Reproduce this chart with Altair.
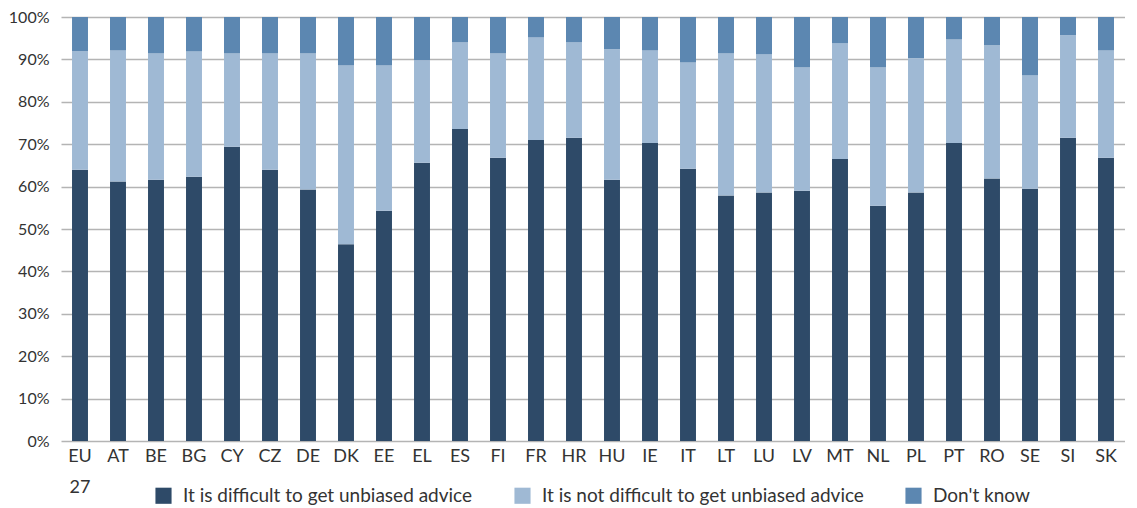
import altair as alt
import pandas as pd

countries = ["EU 27", "AT", "BE", "BG", "CY", "CZ", "DE", "DK", "EE", "EL", "ES", "FI", "FR", "HR",
             "HU", "IE", "IT", "LT", "LU", "LV", "MT", "NL", "PL", "PT", "RO", "SE", "SI", "SK"]
difficult = [64.0, 61.2, 61.6, 62.3, 69.4, 64.0, 59.3, 46.4, 54.3, 65.6, 73.6, 66.8, 71.0, 71.5,
             61.6, 70.3, 64.2, 57.9, 58.6, 59.0, 66.5, 55.5, 58.6, 70.3, 61.9, 59.5, 71.5, 66.8]
difficult_plus_not = [91.9, 92.1, 91.4, 91.9, 91.4, 91.4, 91.4, 88.6, 88.6, 89.8, 94.0, 91.4, 95.2, 94.0,
                      92.4, 92.1, 89.3, 91.4, 91.2, 88.1, 93.8, 88.1, 90.3, 94.7, 93.3, 86.3, 95.7, 92.1]
series = ["It is difficult to get unbiased advice",
          "It is not difficult to get unbiased advice",
          "Don't know"]
colors = ["#2E4A68", "#9FB9D4", "#5C87B1"]

rows = []
for c, d, dn in zip(countries, difficult, difficult_plus_not):
    vals = [d, dn - d, 100 - dn]
    for i, (s, v) in enumerate(zip(series, vals)):
        rows.append({"country": c, "series": s, "value": v / 100.0, "order": i})
df = pd.DataFrame(rows)

FONT = "Lato"

chart = alt.Chart(df).mark_bar().encode(
    x=alt.X("country:N", sort=countries,
            scale=alt.Scale(paddingInner=0.58, paddingOuter=0.29),
            axis=alt.Axis(title=None, labelAngle=0, ticks=False, domain=False,
                          labelExpr="split(datum.label, ' ')",
                          labelFontSize=18, labelColor="#333333", labelPadding=6,
                          labelLineHeight=31, labelFont=FONT, grid=False)),
    y=alt.Y("value:Q", stack="zero",
            scale=alt.Scale(domain=[0, 1]),
            axis=alt.Axis(title=None, format=".0%", values=[i / 10 for i in range(11)],
                          labelOverlap=False,
                          ticks=False, domain=False, labelPadding=12,
                          labelFontSize=16, labelColor="#333333", labelFont=FONT,
                          gridColor="#b4b4b4", gridWidth=1.5)),
    color=alt.Color("series:N", sort=series,
                    scale=alt.Scale(domain=series, range=colors),
                    legend=alt.Legend(title=None, orient="none", direction="horizontal",
                                      legendX=93, legendY=469,
                                      symbolType="square", symbolSize=260, symbolStrokeWidth=0,
                                      labelFontSize=19, labelFont=FONT, labelColor="#333333",
                                      columnPadding=40, labelOffset=10, labelLimit=400)),
    order=alt.Order("order:Q"),
).properties(
    width=1064, height=424,
    padding={"left": 0, "top": 1, "right": 0, "bottom": 0},
).configure_view(stroke=None)

chart.save("out.html", embed_options={"renderer": "svg", "actions": False})
